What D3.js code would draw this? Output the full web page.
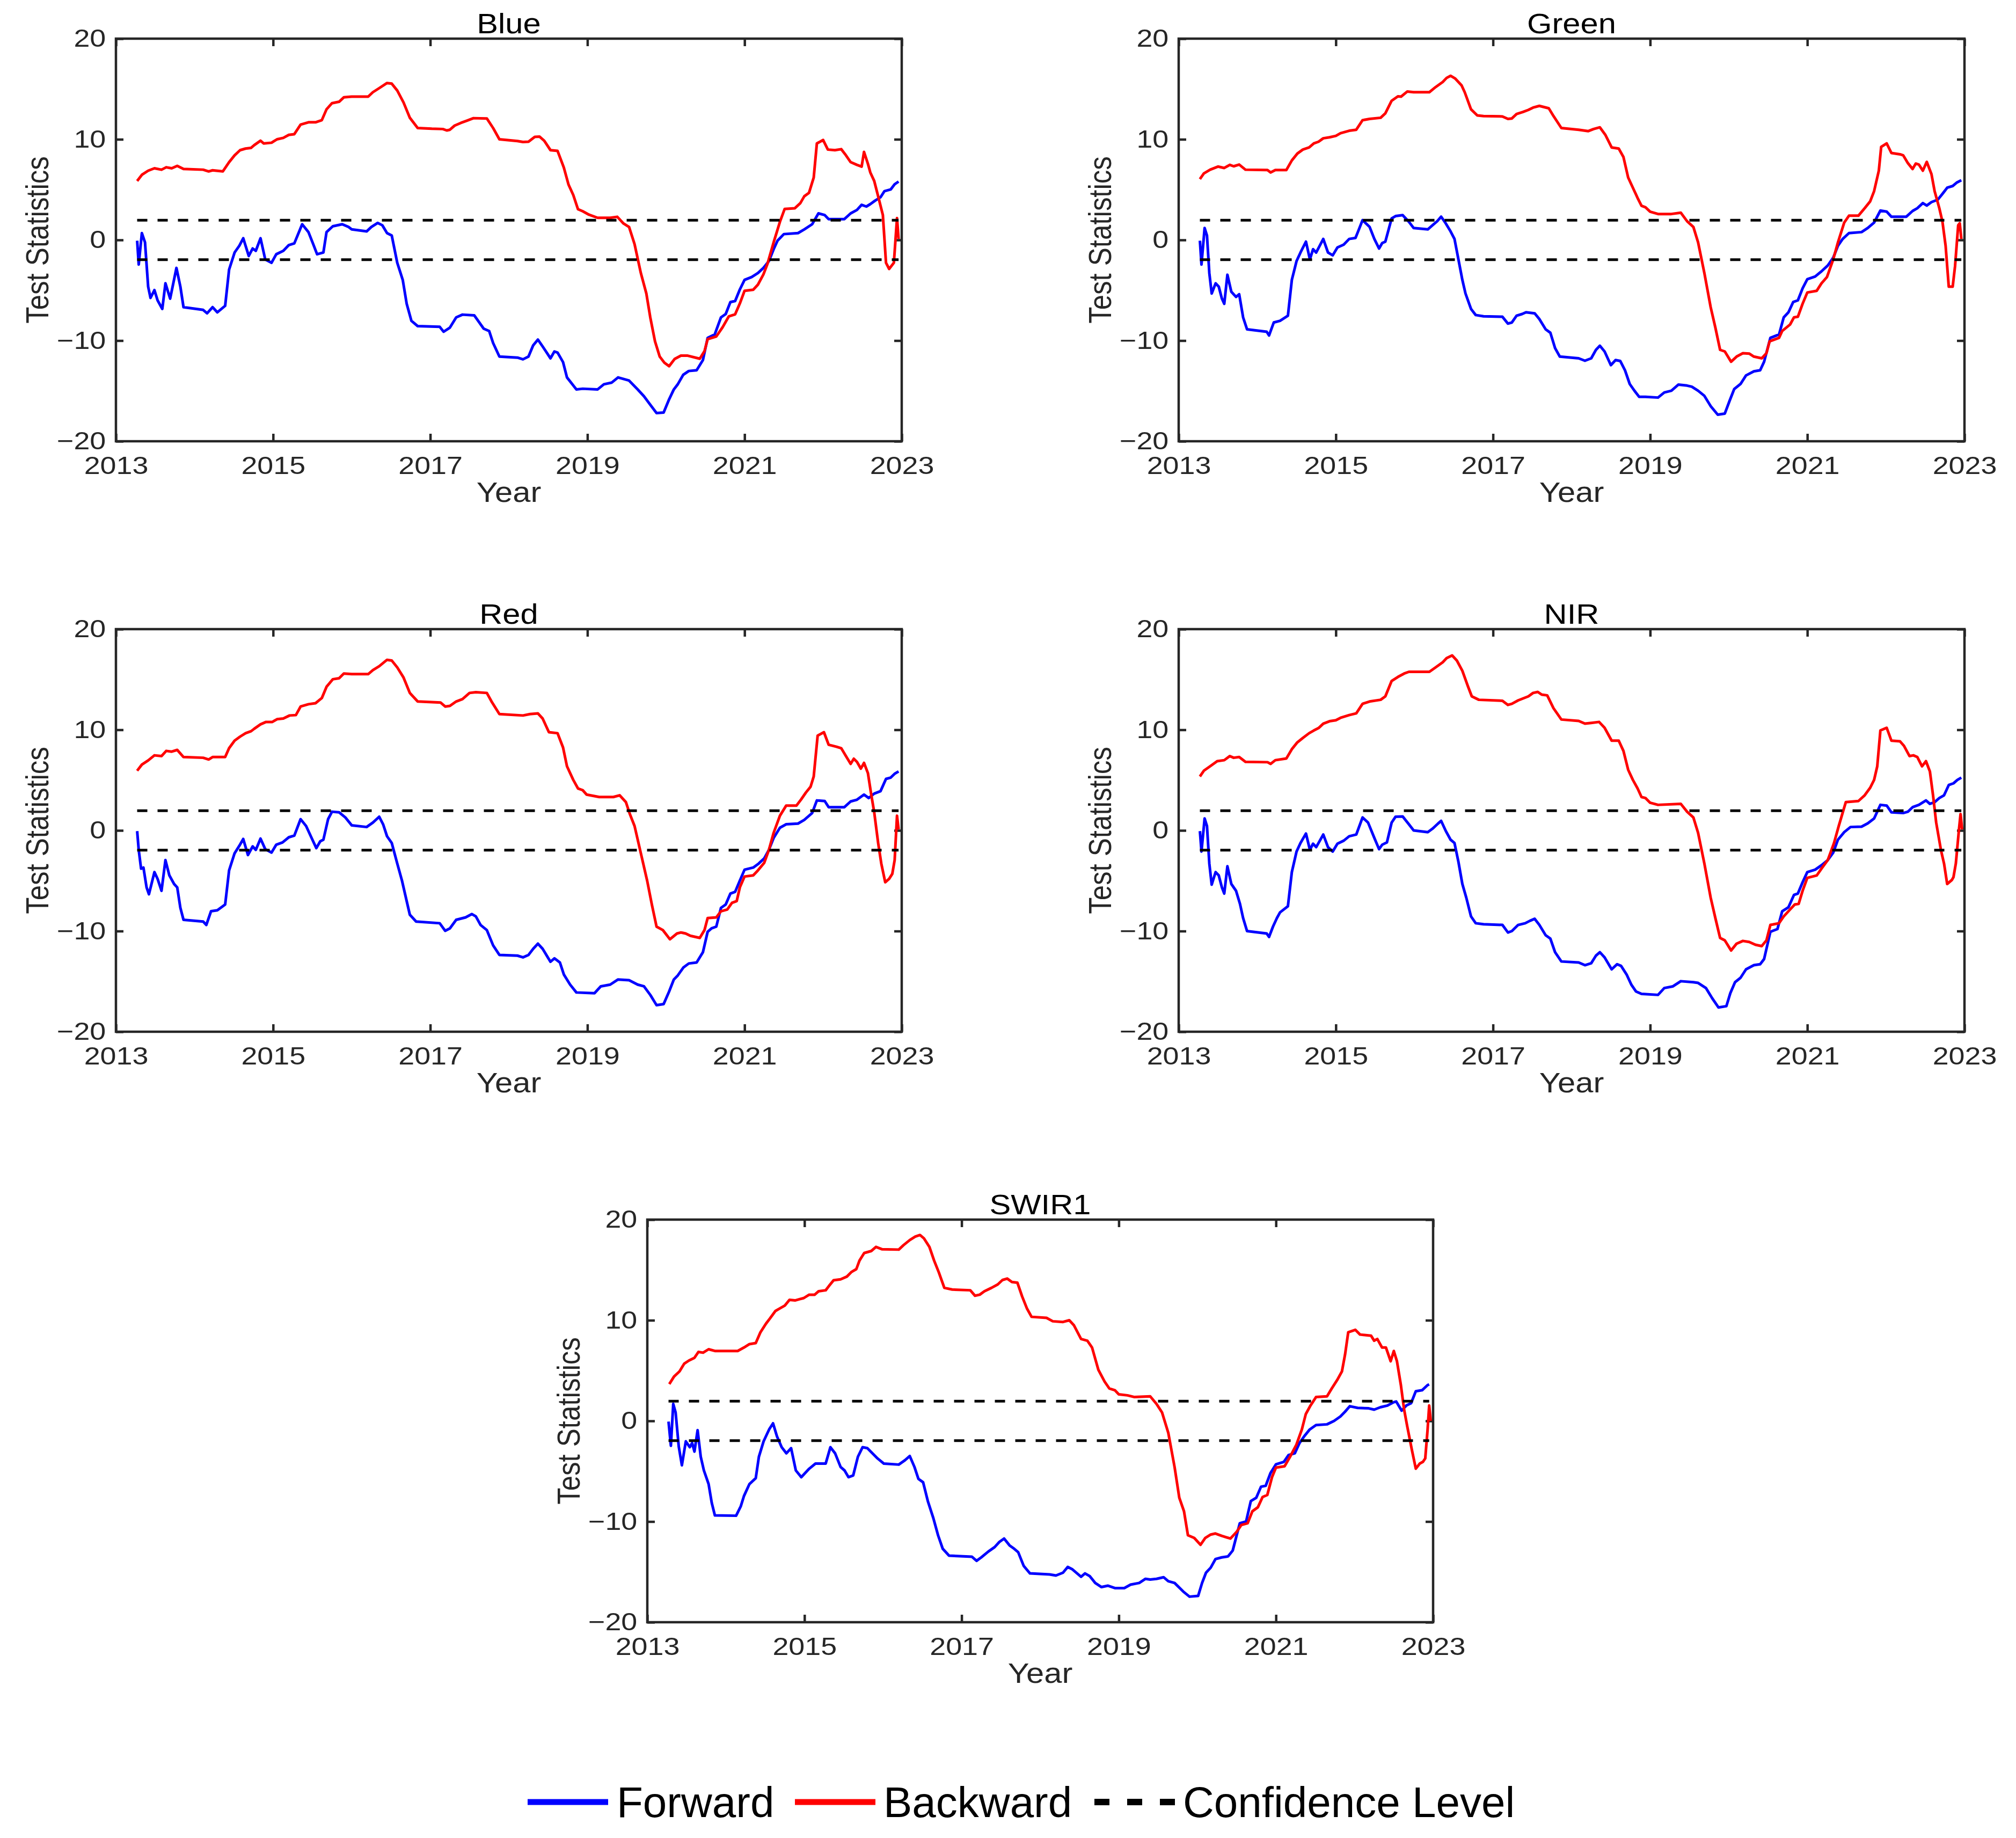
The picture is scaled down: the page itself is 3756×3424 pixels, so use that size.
<!DOCTYPE html>
<html>
<head>
<meta charset="utf-8">
<script src="https://cdn.jsdelivr.net/npm/d3@7"></script>
<style>
  body { margin: 0; background: #fff; }
  svg { display: block; }
  text { font-family: Arial, "Liberation Sans", Helvetica, sans-serif; }
</style>
</head>
<body>
<div id="chart"></div>
<script>
// ---- data: [decimal year, test statistic] ----
var bands = ["Blue", "Green", "Red", "NIR", "SWIR1"];
var xTicks = [2013, 2015, 2017, 2019, 2021, 2023];
var yTicks = [-20, -10, 0, 10, 20];
var confidence = 1.96;
var legendLabels = ["Forward", "Backward", "Confidence Level"];

var blueFwd = [[2013.27,-0.07],[2013.29,-2.44],[2013.33,0.68],[2013.37,-0.24],[2013.41,-4.64],[2013.44,-5.76],[2013.49,-4.98],[2013.53,-6.0],[2013.59,-6.85],[2013.63,-4.31],[2013.69,-5.83],[2013.77,-2.78],[2013.82,-4.64],[2013.86,-6.68],[2014.11,-6.95],[2014.16,-7.29],[2014.23,-6.68],[2014.29,-7.19],[2014.39,-6.54],[2014.44,-2.95],[2014.51,-1.25],[2014.57,-0.58],[2014.62,0.17],[2014.69,-1.59],[2014.74,-0.85],[2014.78,-1.08],[2014.84,0.17],[2014.9,-1.93],[2014.98,-2.27],[2015.04,-1.42],[2015.13,-1.08],[2015.2,-0.51],[2015.27,-0.34],[2015.37,1.56],[2015.45,0.78],[2015.51,-0.41],[2015.56,-1.42],[2015.64,-1.25],[2015.68,0.78],[2015.76,1.36],[2015.88,1.56],[2015.96,1.29],[2016.0,1.05],[2016.19,0.85],[2016.25,1.29],[2016.33,1.69],[2016.39,1.46],[2016.45,0.68],[2016.51,0.44],[2016.58,-2.27],[2016.65,-3.97],[2016.7,-6.34],[2016.76,-8.03],[2016.84,-8.56],[2017.12,-8.63],[2017.17,-9.12],[2017.25,-8.71],[2017.33,-7.69],[2017.41,-7.42],[2017.56,-7.49],[2017.68,-8.81],[2017.75,-9.05],[2017.8,-10.24],[2017.88,-11.59],[2018.11,-11.69],[2018.18,-11.86],[2018.25,-11.59],[2018.31,-10.47],[2018.37,-9.9],[2018.43,-10.58],[2018.53,-11.76],[2018.58,-11.08],[2018.62,-11.19],[2018.69,-12.14],[2018.74,-13.66],[2018.86,-14.85],[2018.94,-14.78],[2019.13,-14.85],[2019.21,-14.34],[2019.31,-14.17],[2019.39,-13.66],[2019.53,-13.97],[2019.64,-14.85],[2019.72,-15.53],[2019.8,-16.37],[2019.88,-17.2],[2019.97,-17.15],[2020.04,-15.83],[2020.1,-14.85],[2020.15,-14.34],[2020.22,-13.39],[2020.29,-13.02],[2020.39,-12.95],[2020.47,-11.93],[2020.53,-9.73],[2020.62,-9.39],[2020.7,-7.69],[2020.76,-7.36],[2020.82,-6.17],[2020.88,-6.07],[2020.94,-4.92],[2021.0,-3.97],[2021.09,-3.69],[2021.17,-3.29],[2021.24,-2.78],[2021.31,-2.1],[2021.37,-0.92],[2021.42,-0.07],[2021.5,0.58],[2021.68,0.68],[2021.76,1.05],[2021.86,1.56],[2021.94,2.64],[2022.02,2.47],[2022.07,2.07],[2022.27,2.07],[2022.35,2.64],[2022.43,2.98],[2022.49,3.49],[2022.55,3.32],[2022.6,3.56],[2022.66,3.9],[2022.73,4.24],[2022.78,4.85],[2022.86,5.02],[2022.91,5.53],[2022.96,5.8]];
var blueBwd = [[2013.27,5.86],[2013.33,6.47],[2013.41,6.88],[2013.49,7.12],[2013.58,6.98],[2013.64,7.22],[2013.71,7.12],[2013.78,7.36],[2013.86,7.05],[2014.11,6.98],[2014.18,6.81],[2014.23,6.92],[2014.36,6.81],[2014.44,7.73],[2014.51,8.41],[2014.58,8.92],[2014.65,9.08],[2014.72,9.15],[2014.76,9.42],[2014.84,9.86],[2014.88,9.59],[2014.98,9.66],[2015.05,10.0],[2015.13,10.14],[2015.2,10.44],[2015.27,10.51],[2015.35,11.46],[2015.45,11.69],[2015.54,11.69],[2015.62,11.9],[2015.68,12.98],[2015.75,13.59],[2015.84,13.73],[2015.9,14.17],[2016.0,14.24],[2016.21,14.24],[2016.27,14.68],[2016.35,15.08],[2016.45,15.59],[2016.51,15.53],[2016.58,14.85],[2016.66,13.66],[2016.74,12.14],[2016.84,11.12],[2017.02,11.05],[2017.16,11.02],[2017.21,10.88],[2017.25,10.95],[2017.31,11.36],[2017.39,11.63],[2017.47,11.86],[2017.55,12.1],[2017.72,12.07],[2017.8,11.12],[2017.88,10.0],[2018.11,9.83],[2018.18,9.73],[2018.25,9.76],[2018.33,10.24],[2018.39,10.27],[2018.45,9.86],[2018.53,8.92],[2018.62,8.85],[2018.7,7.19],[2018.76,5.49],[2018.82,4.47],[2018.88,3.05],[2018.94,2.85],[2019.02,2.51],[2019.13,2.2],[2019.29,2.2],[2019.38,2.3],[2019.46,1.63],[2019.53,1.29],[2019.6,-0.41],[2019.68,-3.29],[2019.75,-5.32],[2019.8,-7.69],[2019.86,-10.07],[2019.92,-11.59],[2019.98,-12.2],[2020.04,-12.54],[2020.11,-11.83],[2020.19,-11.49],[2020.27,-11.49],[2020.43,-11.8],[2020.49,-11.05],[2020.53,-9.86],[2020.64,-9.59],[2020.72,-8.68],[2020.8,-7.59],[2020.88,-7.39],[2020.94,-6.31],[2021.0,-5.05],[2021.11,-4.95],[2021.17,-4.44],[2021.24,-3.42],[2021.29,-2.41],[2021.37,-0.24],[2021.45,1.8],[2021.51,3.08],[2021.64,3.15],[2021.71,3.66],[2021.76,4.34],[2021.82,4.68],[2021.88,6.2],[2021.92,9.59],[2022.0,9.93],[2022.06,8.98],[2022.15,8.92],[2022.23,9.02],[2022.29,8.41],[2022.35,7.73],[2022.43,7.46],[2022.49,7.29],[2022.52,8.75],[2022.57,7.56],[2022.6,6.71],[2022.65,5.86],[2022.7,4.34],[2022.76,2.47],[2022.8,-2.27],[2022.84,-2.88],[2022.9,-2.27],[2022.94,2.17],[2022.96,0.1]];

var greenFwd = [[2013.27,-0.07],[2013.29,-2.44],[2013.33,1.19],[2013.36,0.44],[2013.39,-3.29],[2013.42,-5.32],[2013.47,-4.31],[2013.51,-4.64],[2013.55,-5.83],[2013.58,-6.34],[2013.62,-3.46],[2013.67,-5.15],[2013.73,-5.66],[2013.77,-5.39],[2013.82,-7.69],[2013.87,-8.88],[2014.12,-9.12],[2014.15,-9.49],[2014.21,-8.2],[2014.29,-8.03],[2014.39,-7.53],[2014.44,-3.97],[2014.5,-2.1],[2014.55,-1.25],[2014.62,-0.17],[2014.67,-1.93],[2014.71,-0.92],[2014.75,-1.25],[2014.84,0.1],[2014.9,-1.25],[2014.96,-1.53],[2015.02,-0.75],[2015.1,-0.47],[2015.17,0.1],[2015.25,0.2],[2015.28,0.78],[2015.34,1.97],[2015.43,1.29],[2015.49,0.1],[2015.55,-0.85],[2015.59,-0.31],[2015.63,-0.17],[2015.71,2.14],[2015.76,2.37],[2015.85,2.47],[2015.93,1.8],[2015.99,1.19],[2016.17,1.05],[2016.23,1.46],[2016.29,1.86],[2016.34,2.31],[2016.4,1.63],[2016.46,0.85],[2016.51,0.1],[2016.56,-1.93],[2016.61,-3.97],[2016.65,-5.32],[2016.72,-6.85],[2016.78,-7.46],[2016.88,-7.59],[2017.12,-7.63],[2017.19,-8.31],[2017.24,-8.2],[2017.3,-7.53],[2017.37,-7.36],[2017.42,-7.19],[2017.53,-7.29],[2017.59,-7.86],[2017.67,-8.88],[2017.73,-9.22],[2017.79,-10.75],[2017.85,-11.59],[2018.09,-11.76],[2018.17,-12.0],[2018.25,-11.76],[2018.31,-10.92],[2018.36,-10.51],[2018.42,-11.08],[2018.5,-12.44],[2018.56,-11.93],[2018.62,-12.03],[2018.68,-12.95],[2018.74,-14.31],[2018.8,-14.98],[2018.86,-15.59],[2018.94,-15.59],[2019.1,-15.66],[2019.18,-15.15],[2019.27,-14.98],[2019.36,-14.37],[2019.47,-14.47],[2019.53,-14.58],[2019.61,-14.98],[2019.69,-15.49],[2019.77,-16.51],[2019.86,-17.36],[2019.95,-17.25],[2020.01,-16.0],[2020.07,-14.81],[2020.15,-14.31],[2020.22,-13.46],[2020.32,-13.05],[2020.4,-12.95],[2020.45,-12.1],[2020.53,-9.73],[2020.64,-9.39],[2020.7,-7.69],[2020.76,-7.19],[2020.82,-6.17],[2020.88,-6.0],[2020.94,-4.81],[2021.0,-3.9],[2021.1,-3.63],[2021.18,-3.12],[2021.26,-2.54],[2021.33,-1.76],[2021.39,-0.58],[2021.45,0.1],[2021.53,0.68],[2021.69,0.78],[2021.77,1.19],[2021.85,1.73],[2021.93,2.92],[2022.01,2.81],[2022.07,2.31],[2022.26,2.31],[2022.34,2.88],[2022.4,3.15],[2022.47,3.66],[2022.52,3.42],[2022.58,3.76],[2022.66,4.0],[2022.72,4.58],[2022.78,5.19],[2022.85,5.36],[2022.9,5.69],[2022.96,5.93]];
var greenBwd = [[2013.27,6.05],[2013.32,6.61],[2013.4,6.98],[2013.5,7.29],[2013.58,7.15],[2013.65,7.46],[2013.7,7.32],[2013.77,7.49],[2013.85,6.98],[2014.13,6.95],[2014.17,6.71],[2014.23,6.95],[2014.37,6.95],[2014.44,7.9],[2014.51,8.58],[2014.58,8.98],[2014.66,9.19],[2014.72,9.59],[2014.78,9.76],[2014.84,10.1],[2014.92,10.2],[2015.0,10.34],[2015.06,10.61],[2015.17,10.85],[2015.26,10.95],[2015.34,11.9],[2015.43,12.03],[2015.57,12.14],[2015.63,12.58],[2015.71,13.83],[2015.79,14.27],[2015.83,14.24],[2015.91,14.75],[2015.99,14.68],[2016.19,14.68],[2016.27,15.19],[2016.36,15.69],[2016.41,16.1],[2016.46,16.31],[2016.52,16.03],[2016.6,15.36],[2016.64,14.68],[2016.72,12.98],[2016.8,12.37],[2016.88,12.31],[2017.12,12.27],[2017.19,12.03],[2017.24,12.07],[2017.3,12.51],[2017.38,12.71],[2017.45,12.92],[2017.51,13.15],[2017.59,13.32],[2017.71,13.08],[2017.77,12.31],[2017.87,11.12],[2018.09,10.95],[2018.21,10.81],[2018.28,11.02],[2018.36,11.19],[2018.43,10.44],[2018.51,9.19],[2018.6,9.08],[2018.66,8.24],[2018.72,6.2],[2018.78,5.19],[2018.84,4.17],[2018.89,3.39],[2018.94,3.25],[2019.0,2.81],[2019.1,2.58],[2019.27,2.58],[2019.39,2.71],[2019.47,1.86],[2019.55,1.29],[2019.61,-0.24],[2019.69,-3.29],[2019.77,-6.68],[2019.83,-8.71],[2019.89,-10.92],[2019.95,-11.08],[2020.03,-12.1],[2020.1,-11.59],[2020.18,-11.25],[2020.26,-11.29],[2020.32,-11.59],[2020.42,-11.76],[2020.48,-11.25],[2020.52,-10.07],[2020.64,-9.73],[2020.68,-9.05],[2020.78,-8.41],[2020.83,-7.69],[2020.88,-7.63],[2020.94,-6.34],[2021.0,-5.22],[2021.12,-5.05],[2021.18,-4.31],[2021.25,-3.69],[2021.33,-1.93],[2021.39,-0.24],[2021.47,1.73],[2021.53,2.41],[2021.65,2.41],[2021.73,3.15],[2021.8,3.83],[2021.85,4.85],[2021.91,6.88],[2021.94,9.25],[2022.01,9.59],[2022.07,8.64],[2022.18,8.51],[2022.22,8.41],[2022.28,7.63],[2022.34,7.05],[2022.38,7.59],[2022.42,7.49],[2022.47,6.88],[2022.52,7.76],[2022.58,6.54],[2022.62,4.85],[2022.68,3.15],[2022.72,1.8],[2022.76,-0.58],[2022.8,-4.64],[2022.85,-4.64],[2022.88,-2.61],[2022.92,1.46],[2022.94,1.66],[2022.96,0.1]];

var redFwd = [[2013.27,-0.07],[2013.29,-1.93],[2013.32,-3.8],[2013.35,-3.69],[2013.39,-5.66],[2013.42,-6.34],[2013.49,-4.14],[2013.53,-4.81],[2013.58,-6.0],[2013.63,-2.95],[2013.68,-4.47],[2013.74,-5.32],[2013.78,-5.66],[2013.82,-7.69],[2013.86,-8.88],[2014.11,-9.05],[2014.15,-9.39],[2014.21,-8.03],[2014.29,-7.93],[2014.39,-7.36],[2014.44,-3.97],[2014.51,-2.27],[2014.57,-1.53],[2014.62,-0.85],[2014.68,-2.44],[2014.74,-1.59],[2014.78,-1.93],[2014.84,-0.81],[2014.9,-1.86],[2014.98,-2.2],[2015.04,-1.42],[2015.12,-1.19],[2015.2,-0.68],[2015.27,-0.51],[2015.35,1.12],[2015.42,0.44],[2015.49,-0.75],[2015.55,-1.76],[2015.6,-1.08],[2015.64,-0.92],[2015.7,1.12],[2015.75,1.86],[2015.84,1.8],[2015.92,1.29],[2016.0,0.51],[2016.19,0.34],[2016.27,0.78],[2016.35,1.36],[2016.4,0.61],[2016.45,-0.58],[2016.51,-1.25],[2016.58,-3.29],[2016.64,-4.98],[2016.7,-7.02],[2016.74,-8.37],[2016.82,-9.05],[2017.12,-9.22],[2017.19,-9.97],[2017.25,-9.73],[2017.33,-8.88],[2017.45,-8.64],[2017.53,-8.31],[2017.58,-8.54],[2017.64,-9.39],[2017.72,-9.9],[2017.8,-11.42],[2017.88,-12.37],[2018.11,-12.44],[2018.18,-12.61],[2018.25,-12.37],[2018.31,-11.76],[2018.37,-11.25],[2018.43,-11.76],[2018.53,-13.05],[2018.58,-12.71],[2018.65,-13.12],[2018.7,-14.31],[2018.78,-15.32],[2018.86,-16.1],[2019.09,-16.17],[2019.17,-15.49],[2019.29,-15.32],[2019.39,-14.81],[2019.53,-14.88],[2019.64,-15.32],[2019.72,-15.49],[2019.8,-16.34],[2019.88,-17.36],[2019.97,-17.25],[2020.04,-16.0],[2020.1,-14.81],[2020.15,-14.41],[2020.22,-13.63],[2020.29,-13.22],[2020.39,-13.12],[2020.47,-12.1],[2020.53,-10.07],[2020.58,-9.73],[2020.64,-9.56],[2020.7,-7.69],[2020.76,-7.36],[2020.82,-6.27],[2020.88,-6.1],[2020.94,-4.98],[2021.0,-3.9],[2021.11,-3.69],[2021.18,-3.29],[2021.25,-2.78],[2021.31,-1.93],[2021.37,-0.75],[2021.45,0.27],[2021.53,0.61],[2021.68,0.68],[2021.76,1.05],[2021.86,1.73],[2021.92,2.98],[2022.02,2.92],[2022.07,2.31],[2022.27,2.31],[2022.35,2.88],[2022.43,3.05],[2022.52,3.56],[2022.58,3.22],[2022.65,3.66],[2022.73,3.9],[2022.8,5.12],[2022.86,5.25],[2022.91,5.63],[2022.96,5.86]];
var redBwd = [[2013.27,5.93],[2013.33,6.54],[2013.41,6.95],[2013.49,7.46],[2013.58,7.39],[2013.64,7.9],[2013.71,7.83],[2013.78,8.0],[2013.86,7.29],[2014.11,7.22],[2014.18,7.05],[2014.23,7.29],[2014.39,7.29],[2014.44,8.17],[2014.51,8.92],[2014.58,9.32],[2014.65,9.66],[2014.72,9.86],[2014.76,10.1],[2014.84,10.54],[2014.91,10.78],[2014.99,10.78],[2015.05,11.05],[2015.13,11.12],[2015.21,11.42],[2015.29,11.46],[2015.35,12.31],[2015.45,12.54],[2015.54,12.64],[2015.62,13.15],[2015.68,14.27],[2015.76,15.02],[2015.84,15.12],[2015.9,15.59],[2016.0,15.53],[2016.21,15.53],[2016.27,15.93],[2016.35,16.31],[2016.45,16.95],[2016.51,16.88],[2016.58,16.2],[2016.66,15.19],[2016.74,13.66],[2016.84,12.81],[2017.13,12.71],[2017.19,12.31],[2017.25,12.37],[2017.33,12.81],[2017.41,13.05],[2017.5,13.66],[2017.58,13.73],[2017.72,13.66],[2017.78,12.81],[2017.88,11.56],[2018.18,11.42],[2018.27,11.56],[2018.37,11.63],[2018.43,11.12],[2018.51,9.76],[2018.62,9.66],[2018.69,8.24],[2018.74,6.37],[2018.82,5.02],[2018.88,4.17],[2018.94,4.0],[2018.99,3.56],[2019.15,3.32],[2019.33,3.32],[2019.41,3.49],[2019.49,2.81],[2019.54,1.63],[2019.6,0.44],[2019.68,-2.27],[2019.76,-4.98],[2019.82,-7.36],[2019.88,-9.56],[2019.96,-9.9],[2020.05,-10.81],[2020.14,-10.24],[2020.19,-10.14],[2020.25,-10.24],[2020.31,-10.47],[2020.43,-10.68],[2020.49,-9.9],[2020.53,-8.71],[2020.64,-8.64],[2020.7,-8.03],[2020.78,-7.86],[2020.84,-7.19],[2020.9,-7.02],[2020.94,-5.66],[2021.0,-4.58],[2021.11,-4.47],[2021.17,-3.97],[2021.25,-3.22],[2021.31,-1.93],[2021.37,-0.24],[2021.45,1.46],[2021.53,2.47],[2021.66,2.47],[2021.72,3.08],[2021.78,3.76],[2021.84,4.34],[2021.88,5.36],[2021.93,9.42],[2022.01,9.76],[2022.07,8.51],[2022.17,8.31],[2022.23,8.17],[2022.29,7.39],[2022.35,6.61],[2022.39,7.12],[2022.43,6.81],[2022.48,6.14],[2022.52,6.71],[2022.57,5.69],[2022.61,3.66],[2022.65,1.8],[2022.7,-1.25],[2022.74,-3.29],[2022.79,-5.15],[2022.84,-4.81],[2022.88,-4.31],[2022.91,-2.95],[2022.94,1.46],[2022.96,0.1]];

var nirFwd = [[2013.27,-0.07],[2013.29,-2.1],[2013.33,1.19],[2013.36,0.44],[2013.39,-3.29],[2013.42,-5.39],[2013.47,-4.14],[2013.51,-4.47],[2013.55,-5.66],[2013.58,-6.27],[2013.62,-3.56],[2013.67,-5.32],[2013.73,-6.0],[2013.78,-7.29],[2013.82,-8.71],[2013.87,-10.0],[2014.12,-10.24],[2014.15,-10.58],[2014.2,-9.56],[2014.25,-8.71],[2014.29,-8.14],[2014.39,-7.53],[2014.44,-4.14],[2014.5,-2.1],[2014.55,-1.25],[2014.62,-0.31],[2014.67,-1.93],[2014.71,-1.32],[2014.75,-1.66],[2014.84,-0.41],[2014.9,-1.66],[2014.96,-2.1],[2015.02,-1.32],[2015.1,-1.02],[2015.17,-0.58],[2015.26,-0.41],[2015.34,1.29],[2015.41,0.78],[2015.49,-0.75],[2015.55,-1.86],[2015.59,-1.42],[2015.65,-1.19],[2015.71,0.78],[2015.76,1.36],[2015.85,1.39],[2015.93,0.61],[2015.99,0.0],[2016.17,-0.17],[2016.23,0.17],[2016.3,0.68],[2016.34,0.95],[2016.4,-0.07],[2016.46,-0.92],[2016.51,-1.25],[2016.56,-3.12],[2016.61,-5.32],[2016.66,-6.68],[2016.72,-8.54],[2016.78,-9.22],[2016.88,-9.32],[2017.12,-9.39],[2017.19,-10.14],[2017.24,-10.0],[2017.32,-9.39],[2017.41,-9.22],[2017.47,-8.98],[2017.53,-8.78],[2017.59,-9.39],[2017.67,-10.41],[2017.73,-10.75],[2017.79,-12.1],[2017.87,-13.02],[2018.09,-13.12],[2018.17,-13.39],[2018.25,-13.19],[2018.31,-12.44],[2018.36,-12.1],[2018.42,-12.61],[2018.51,-13.8],[2018.58,-13.29],[2018.63,-13.46],[2018.7,-14.31],[2018.76,-15.32],[2018.82,-16.0],[2018.89,-16.24],[2019.1,-16.34],[2019.18,-15.66],[2019.29,-15.49],[2019.39,-14.98],[2019.55,-15.08],[2019.61,-15.15],[2019.71,-15.66],[2019.79,-16.68],[2019.87,-17.59],[2019.97,-17.46],[2020.02,-16.17],[2020.08,-15.08],[2020.15,-14.64],[2020.22,-13.8],[2020.32,-13.39],[2020.4,-13.29],[2020.45,-12.78],[2020.53,-10.07],[2020.62,-9.8],[2020.68,-8.03],[2020.76,-7.63],[2020.83,-6.41],[2020.88,-6.27],[2020.94,-5.15],[2021.0,-4.14],[2021.1,-3.9],[2021.18,-3.46],[2021.26,-2.95],[2021.33,-2.2],[2021.39,-0.92],[2021.47,-0.17],[2021.55,0.34],[2021.69,0.37],[2021.77,0.71],[2021.85,1.19],[2021.93,2.54],[2022.01,2.47],[2022.07,1.8],[2022.22,1.73],[2022.28,1.86],[2022.34,2.31],[2022.42,2.54],[2022.51,2.98],[2022.56,2.64],[2022.62,2.81],[2022.68,3.22],[2022.74,3.49],[2022.8,4.51],[2022.86,4.68],[2022.91,5.02],[2022.96,5.25]];
var nirBwd = [[2013.27,5.36],[2013.32,5.93],[2013.4,6.37],[2013.49,6.88],[2013.58,6.98],[2013.65,7.39],[2013.7,7.22],[2013.77,7.29],[2013.85,6.81],[2014.13,6.78],[2014.17,6.61],[2014.23,6.98],[2014.37,7.15],[2014.44,8.07],[2014.51,8.75],[2014.58,9.19],[2014.66,9.66],[2014.72,9.93],[2014.78,10.17],[2014.84,10.61],[2014.92,10.85],[2015.0,10.95],[2015.06,11.19],[2015.17,11.46],[2015.26,11.63],[2015.34,12.58],[2015.43,12.81],[2015.57,12.98],[2015.63,13.32],[2015.71,14.85],[2015.79,15.25],[2015.87,15.59],[2015.93,15.76],[2016.19,15.76],[2016.27,16.2],[2016.36,16.71],[2016.41,17.12],[2016.48,17.39],[2016.54,16.88],[2016.61,15.86],[2016.68,14.34],[2016.73,13.32],[2016.82,12.98],[2017.12,12.88],[2017.19,12.47],[2017.24,12.58],[2017.32,12.92],[2017.45,13.32],[2017.51,13.66],[2017.57,13.76],[2017.62,13.49],[2017.69,13.42],[2017.77,12.14],[2017.87,11.02],[2018.09,10.88],[2018.17,10.61],[2018.25,10.68],[2018.35,10.78],[2018.42,10.2],[2018.51,8.92],[2018.6,8.92],[2018.66,7.9],[2018.72,6.03],[2018.78,5.02],[2018.84,4.17],[2018.89,3.32],[2018.94,3.22],[2019.0,2.75],[2019.1,2.54],[2019.39,2.64],[2019.47,1.86],[2019.55,1.29],[2019.61,-0.24],[2019.69,-3.29],[2019.77,-6.68],[2019.83,-8.71],[2019.89,-10.68],[2019.95,-10.92],[2020.03,-11.93],[2020.1,-11.25],[2020.18,-10.98],[2020.26,-11.08],[2020.34,-11.36],[2020.42,-11.49],[2020.48,-10.92],[2020.53,-9.39],[2020.64,-9.22],[2020.7,-8.54],[2020.78,-7.86],[2020.84,-7.36],[2020.89,-7.29],[2020.94,-6.0],[2021.0,-4.71],[2021.12,-4.47],[2021.18,-3.8],[2021.26,-2.95],[2021.34,-1.25],[2021.4,0.44],[2021.49,2.81],[2021.65,2.92],[2021.73,3.49],[2021.8,4.24],[2021.85,5.02],[2021.89,6.37],[2021.93,9.93],[2022.01,10.2],[2022.07,8.92],[2022.18,8.85],[2022.23,8.41],[2022.3,7.39],[2022.35,7.46],[2022.4,7.29],[2022.46,6.37],[2022.51,6.88],[2022.56,5.86],[2022.6,3.49],[2022.64,0.78],[2022.7,-1.93],[2022.74,-3.29],[2022.78,-5.32],[2022.84,-4.92],[2022.86,-4.64],[2022.89,-3.29],[2022.93,0.1],[2022.95,1.63],[2022.97,0.1]];

var swirFwd = [[2013.27,-0.07],[2013.3,-2.47],[2013.33,1.69],[2013.36,0.85],[2013.4,-2.54],[2013.44,-4.41],[2013.49,-2.03],[2013.54,-2.61],[2013.57,-2.2],[2013.6,-3.05],[2013.64,-0.92],[2013.68,-3.56],[2013.72,-4.92],[2013.78,-6.27],[2013.82,-8.14],[2013.86,-9.39],[2014.13,-9.42],[2014.19,-8.47],[2014.23,-7.46],[2014.3,-6.27],[2014.38,-5.69],[2014.42,-3.56],[2014.48,-2.03],[2014.55,-0.85],[2014.6,-0.24],[2014.65,-1.53],[2014.71,-2.61],[2014.77,-3.22],[2014.83,-2.71],[2014.89,-4.92],[2014.96,-5.59],[2015.06,-4.75],[2015.14,-4.24],[2015.27,-4.24],[2015.33,-2.61],[2015.39,-3.22],[2015.46,-4.58],[2015.51,-4.92],[2015.56,-5.59],[2015.62,-5.42],[2015.68,-3.56],[2015.74,-2.61],[2015.8,-2.71],[2015.93,-3.73],[2016.01,-4.24],[2016.2,-4.34],[2016.28,-3.9],[2016.34,-3.49],[2016.4,-4.58],[2016.45,-5.76],[2016.51,-6.1],[2016.57,-7.97],[2016.64,-9.66],[2016.7,-11.36],[2016.76,-12.71],[2016.84,-13.39],[2017.13,-13.49],[2017.19,-13.9],[2017.25,-13.56],[2017.34,-12.98],[2017.42,-12.54],[2017.48,-12.03],[2017.54,-11.69],[2017.61,-12.37],[2017.67,-12.71],[2017.72,-13.05],[2017.79,-14.41],[2017.87,-15.15],[2018.12,-15.25],[2018.2,-15.36],[2018.29,-15.08],[2018.35,-14.51],[2018.41,-14.75],[2018.52,-15.49],[2018.57,-15.15],[2018.63,-15.42],[2018.7,-16.1],[2018.78,-16.51],[2018.86,-16.37],[2018.95,-16.61],[2019.07,-16.61],[2019.15,-16.27],[2019.26,-16.1],[2019.34,-15.69],[2019.4,-15.76],[2019.48,-15.69],[2019.57,-15.53],[2019.63,-15.93],[2019.71,-16.1],[2019.82,-16.95],[2019.9,-17.46],[2020.01,-17.39],[2020.06,-16.1],[2020.11,-15.08],[2020.17,-14.58],[2020.23,-13.73],[2020.31,-13.56],[2020.39,-13.46],[2020.45,-12.88],[2020.54,-10.17],[2020.62,-10.0],[2020.68,-7.97],[2020.75,-7.63],[2020.81,-6.54],[2020.87,-6.44],[2020.93,-5.19],[2021.0,-4.31],[2021.1,-4.07],[2021.16,-3.39],[2021.24,-3.22],[2021.3,-2.2],[2021.36,-1.53],[2021.43,-0.85],[2021.51,-0.41],[2021.65,-0.34],[2021.74,0.0],[2021.82,0.44],[2021.88,0.92],[2021.94,1.46],[2022.04,1.29],[2022.18,1.25],[2022.25,1.12],[2022.33,1.36],[2022.42,1.53],[2022.5,1.86],[2022.53,1.93],[2022.6,1.02],[2022.66,1.53],[2022.72,1.76],[2022.78,2.95],[2022.86,3.05],[2022.93,3.56],[2022.95,3.63]];
var swirBwd = [[2013.28,3.66],[2013.34,4.41],[2013.41,4.92],[2013.47,5.69],[2013.53,6.0],[2013.6,6.27],[2013.65,6.85],[2013.71,6.78],[2013.78,7.12],[2013.86,6.95],[2014.15,6.95],[2014.23,7.29],[2014.3,7.63],[2014.38,7.73],[2014.44,8.81],[2014.51,9.66],[2014.56,10.17],[2014.63,10.92],[2014.69,11.19],[2014.75,11.46],[2014.81,12.03],[2014.88,11.97],[2014.94,12.1],[2014.99,12.2],[2015.06,12.54],[2015.13,12.54],[2015.18,12.88],[2015.27,12.98],[2015.31,13.39],[2015.37,13.97],[2015.46,14.07],[2015.54,14.34],[2015.6,14.81],[2015.66,15.08],[2015.7,15.93],[2015.76,16.68],[2015.85,16.88],[2015.91,17.29],[2015.99,17.05],[2016.2,17.02],[2016.26,17.46],[2016.34,17.97],[2016.41,18.31],[2016.47,18.47],[2016.52,18.14],[2016.59,17.29],[2016.65,15.93],[2016.71,14.75],[2016.78,13.22],[2016.88,13.05],[2017.11,12.98],[2017.17,12.44],[2017.23,12.54],[2017.29,12.88],[2017.38,13.22],[2017.46,13.56],[2017.52,14.0],[2017.58,14.14],[2017.64,13.8],[2017.71,13.73],[2017.77,12.37],[2017.83,11.19],[2017.89,10.34],[2018.08,10.24],[2018.16,9.9],[2018.29,9.83],[2018.37,10.0],[2018.43,9.49],[2018.52,8.14],[2018.6,7.97],[2018.66,7.29],[2018.74,5.08],[2018.82,3.9],[2018.88,3.22],[2018.95,3.05],[2019.0,2.64],[2019.11,2.54],[2019.2,2.37],[2019.4,2.44],[2019.48,1.69],[2019.55,0.85],[2019.63,-1.19],[2019.71,-4.58],[2019.77,-7.63],[2019.83,-8.98],[2019.88,-11.36],[2019.96,-11.63],[2020.04,-12.31],[2020.1,-11.63],[2020.17,-11.29],[2020.23,-11.19],[2020.31,-11.42],[2020.42,-11.69],[2020.5,-11.02],[2020.56,-10.34],[2020.64,-10.17],[2020.7,-8.98],[2020.77,-8.58],[2020.83,-7.56],[2020.89,-7.36],[2020.95,-5.59],[2021.0,-4.64],[2021.11,-4.51],[2021.18,-3.56],[2021.26,-2.37],[2021.33,-0.85],[2021.38,0.68],[2021.44,1.53],[2021.51,2.37],[2021.65,2.44],[2021.71,3.22],[2021.78,4.07],[2021.84,4.92],[2021.88,6.61],[2021.92,8.81],[2022.01,9.05],[2022.07,8.58],[2022.21,8.47],[2022.25,7.97],[2022.29,8.14],[2022.35,7.29],[2022.4,7.29],[2022.46,5.93],[2022.5,6.95],[2022.54,5.93],[2022.59,3.56],[2022.63,1.19],[2022.67,-0.51],[2022.73,-2.88],[2022.78,-4.75],[2022.83,-4.24],[2022.87,-4.07],[2022.9,-3.73],[2022.93,-0.85],[2022.95,1.53],[2022.97,0.0]];

var fwdSeries = [blueFwd, greenFwd, redFwd, nirFwd, swirFwd];
var bwdSeries = [blueBwd, greenBwd, redBwd, nirBwd, swirBwd];

// ---- layout ----
var figW = 3756, figH = 3424;
var W = 1464, H = 750;
var SX = 1.17;          // the original figure is stretched horizontally
var axisColor = "#262626";
var origins = [[216, 72], [2196, 72], [216, 1172], [2196, 1172], [1206, 2272]];

var svg = d3.select("#chart").append("svg")
    .attr("width", figW)
    .attr("height", figH)
    .style("background", "#fff");

var x = d3.scaleLinear().domain([2013, 2023]).range([0, W]);
var y = d3.scaleLinear().domain([-20, 20]).range([H, 0]);

var line = d3.line()
    .x(function(d) { return x(d[0]); })
    .y(function(d) { return y(d[1]); });

// text with the same horizontal stretch as the picture
function stretched(g, tx, ty, txt, size, rot) {
    return g.append("text")
        .attr("transform", "translate(" + tx + "," + ty + ") scale(" + SX + ",1)" + (rot ? " rotate(" + rot + ")" : ""))
        .attr("text-anchor", "middle")
        .attr("font-size", size)
        .text(txt);
}

function styleAxis(a) {
    a.select(".domain").remove();
    a.selectAll(".tick line").attr("stroke", axisColor).attr("stroke-width", 4.5);
    a.selectAll(".tick text")
        .attr("fill", axisColor)
        .attr("font-size", 46)
        .attr("font-family", "Arial, 'Liberation Sans', Helvetica, sans-serif")
        .attr("transform", "scale(" + SX + ",1)");
}

bands.forEach(function(name, i) {
    var g = svg.append("g")
        .attr("transform", "translate(" + origins[i][0] + "," + origins[i][1] + ")");
    var fwd = fwdSeries[i], bwd = bwdSeries[i];

    // axes, ticks pointing inward on all four sides
    g.append("g").attr("transform", "translate(0," + H + ")")
        .call(d3.axisBottom(x).tickValues(xTicks).tickFormat(d3.format("d"))
            .tickSizeInner(-14).tickSizeOuter(0).tickPadding(28))
        .call(styleAxis);
    g.append("g")
        .call(d3.axisTop(x).tickValues(xTicks).tickFormat("")
            .tickSizeInner(-14).tickSizeOuter(0))
        .call(styleAxis);
    g.append("g")
        .call(d3.axisLeft(y).tickValues(yTicks)
            .tickSizeInner(-14).tickSizeOuter(0).tickPadding(16))
        .call(styleAxis);
    g.append("g").attr("transform", "translate(" + W + ",0)")
        .call(d3.axisRight(y).tickValues(yTicks).tickFormat("")
            .tickSizeInner(-14).tickSizeOuter(0))
        .call(styleAxis);

    // series
    g.append("path").datum(fwd)
        .attr("d", line)
        .attr("fill", "none")
        .attr("stroke", "#0000ff")
        .attr("stroke-width", 5)
        .attr("stroke-linejoin", "round");
    g.append("path").datum(bwd)
        .attr("d", line)
        .attr("fill", "none")
        .attr("stroke", "#ff0000")
        .attr("stroke-width", 5)
        .attr("stroke-linejoin", "round");

    // confidence level
    var x0 = fwd[0][0], x1 = fwd[fwd.length - 1][0];
    [confidence, -confidence].forEach(function(c) {
        g.append("line")
            .attr("x1", x(x0)).attr("x2", x(x1))
            .attr("y1", y(c)).attr("y2", y(c))
            .attr("stroke", "#000")
            .attr("stroke-width", 5)
            .attr("stroke-dasharray", "19,19");
    });

    // box
    g.append("rect")
        .attr("width", W).attr("height", H)
        .attr("fill", "none")
        .attr("stroke", axisColor)
        .attr("stroke-width", 4.5);

    // labels
    stretched(g, W / 2, -10, name, 51).attr("fill", "#000");
    stretched(g, W / 2, H + 113, "Year", 51).attr("fill", axisColor);
    stretched(g, -126, H / 2, "Test Statistics", 51, -90).attr("fill", axisColor);
});

// ---- legend ----
var lg = svg.append("g");
var legendY = 3357, legendBase = 3385;
var swatches = [
    {x: 983, color: "#0000ff", dash: null, tx: 1149},
    {x: 1481, color: "#ff0000", dash: null, tx: 1646},
    {x: 2039, color: "#000", dash: "28,33", tx: 2204}
];
legendLabels.forEach(function(lbl, i) {
    var s = swatches[i];
    lg.append("line")
        .attr("x1", s.x).attr("x2", s.x + 150)
        .attr("y1", legendY).attr("y2", legendY)
        .attr("stroke", s.color)
        .attr("stroke-width", s.dash ? 12 : 11)
        .attr("stroke-dasharray", s.dash);
    lg.append("text")
        .attr("x", s.tx).attr("y", legendBase)
        .attr("font-size", 80)
        .attr("fill", "#000")
        .text(lbl);
});
</script>
</body>
</html>
